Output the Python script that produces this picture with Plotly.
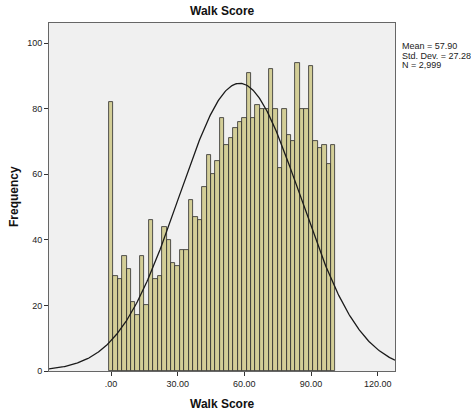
import numpy as np
import plotly.graph_objects as go

# Histogram bins (centres, width 2) and frequencies
bin_centers = list(range(0, 101, 2))
frequencies = [82, 29, 28, 35, 31, 21, 17, 35, 20, 46,
               28, 29, 44, 40, 33, 32, 37, 37, 52, 47,
               46, 56, 66, 60, 64, 77, 69, 71, 74, 76,
               77, 91, 77, 81, 80, 80, 92, 80, 62, 80,
               72, 70, 94, 80, 80, 93, 70, 68, 69, 63,
               69]
bin_width = 2

# Summary statistics shown on the chart
mean_val = 57.90
sd_val = 27.28
n_val = 2999

x_tick_vals = [0, 30, 60, 90, 120]
x_tick_text = [".00", "30.00", "60.00", "90.00", "120.00"]
y_tick_vals = [0, 20, 40, 60, 80, 100]

x_range = [-27.9, 127.8]
y_range = [0, 106.1]

# Normal curve overlay (as drawn by the histogram procedure)
cx = np.linspace(x_range[0], x_range[1], 400)
cy = n_val * bin_width / (sd_val * np.sqrt(2 * np.pi)) * np.exp(-0.5 * ((cx - mean_val) / sd_val) ** 2)

FONT = "Liberation Sans, Arial, sans-serif"

stats_lines = [f"Mean = {mean_val:.2f}", f"Std. Dev. = {sd_val:.2f}", f"N = {n_val:,}"]

fig = go.Figure()
fig.add_trace(go.Bar(
    x=bin_centers, y=frequencies, width=bin_width,
    marker=dict(color="#d3ce97", line=dict(color="#2b2b2b", width=0.8)),
    hoverinfo="x+y", showlegend=False,
))
fig.add_trace(go.Scatter(
    x=cx, y=cy, mode="lines",
    line=dict(color="#1a1a1a", width=1.3),
    hoverinfo="skip", showlegend=False,
))

annotations = [
    dict(text="<b>Walk Score</b>", xref="paper", yref="paper", x=0.5, y=1.0,
         yshift=12, xanchor="center", yanchor="middle", showarrow=False,
         font=dict(family=FONT, size=12, color="#111")),
    dict(text="<b>Walk Score</b>", xref="paper", yref="paper", x=0.5, y=0,
         yshift=-33, xanchor="center", yanchor="middle", showarrow=False,
         font=dict(family=FONT, size=12, color="#111")),
    dict(text="<b>Frequency</b>", xref="paper", yref="paper", x=0, y=0.5,
         xshift=-35, xanchor="center", yanchor="middle", textangle=-90, showarrow=False,
         font=dict(family=FONT, size=12, color="#111")),
]
for k, line in enumerate(stats_lines):
    annotations.append(dict(
        text=line, xref="paper", yref="paper", x=1.0, y=1.0,
        xshift=5, yshift=-23 - 9.6 * k, xanchor="left", yanchor="middle",
        align="left", showarrow=False,
        font=dict(family=FONT, size=9, color="#222")))

fig.update_layout(
    width=471, height=414,
    margin=dict(l=49, r=76, t=23, b=43),
    paper_bgcolor="white", plot_bgcolor="#f0f0f0",
    font=dict(family=FONT, size=9, color="#222"),
    bargap=0,
    xaxis=dict(
        range=x_range, tickvals=x_tick_vals, ticktext=x_tick_text,
        ticks="outside", ticklen=4, tickcolor="#333", tickwidth=1,
        showgrid=False, zeroline=False,
        showline=True, linecolor="#666", linewidth=1, mirror=True,
        tickfont=dict(family=FONT, size=9, color="#222"),
    ),
    yaxis=dict(
        range=y_range, tickvals=y_tick_vals,
        ticks="outside", ticklen=4, tickcolor="#333", tickwidth=1,
        showgrid=False, zeroline=False,
        showline=True, linecolor="#666", linewidth=1, mirror=True,
        tickfont=dict(family=FONT, size=9, color="#222"),
    ),
    annotations=annotations,
)

fig.write_html("out.html")
